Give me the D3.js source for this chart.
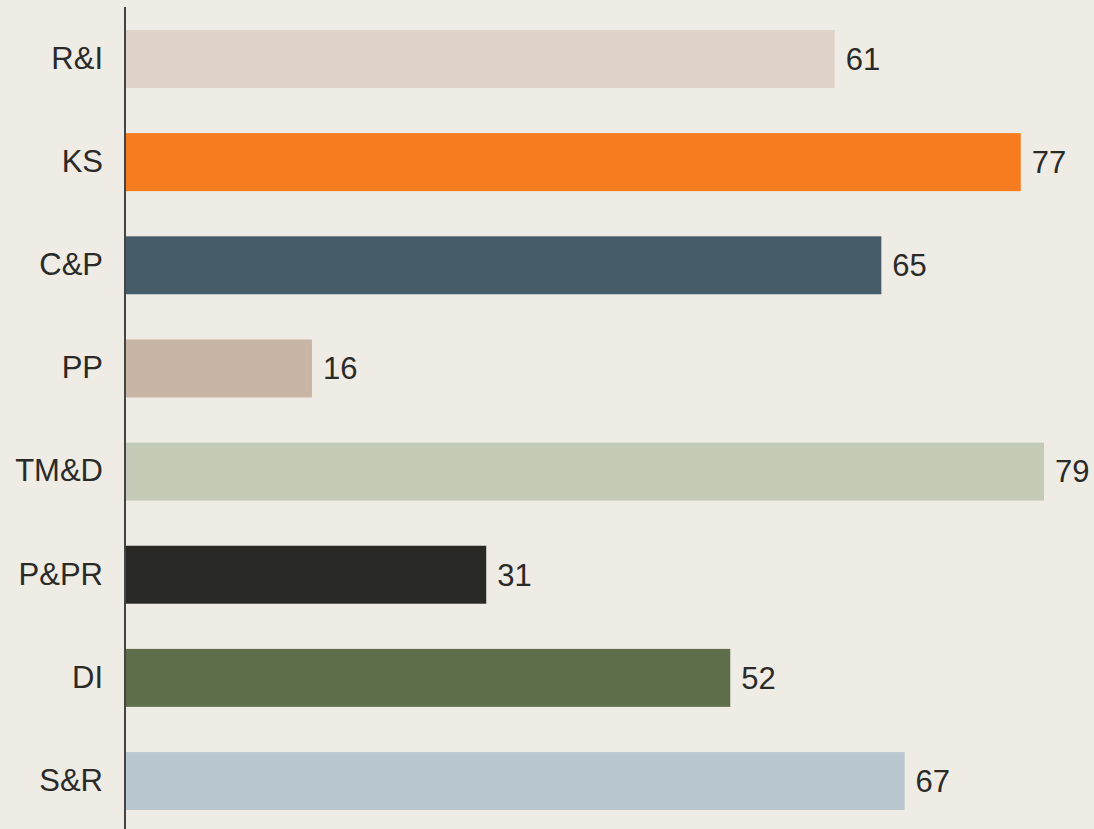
<!DOCTYPE html>
<html>
<head>
<meta charset="utf-8">
<script src="https://cdn.jsdelivr.net/npm/d3@7"></script>
<style>
  html, body { margin: 0; padding: 0; background: #efece5; }
  svg { display: block; }
</style>
</head>
<body>
<div id="chart"></div>
<script>
const categories = ["R&I", "KS", "C&P", "PP", "TM&D", "P&PR", "DI", "S&R"];
const values = [61, 77, 65, 16, 79, 31, 52, 67];
const barColors = ["#e0d4ca", "#f77c20", "#465c68", "#c9b5a5", "#c3cbb7", "#292926", "#5f6e4a", "#b9c7d0"];

const width = 1094;
const height = 829;
const axisX = 125;

const svg = d3.select("#chart")
    .append("svg")
    .attr("width", width)
    .attr("height", height)
    .attr("font-family", "'Liberation Sans', Arial, sans-serif");

svg.append("rect")
    .attr("width", width)
    .attr("height", height)
    .attr("fill", "#efece5");

const x = d3.scaleLinear()
    .domain([0, 83.3])
    .range([axisX + 1, width]);

const y = d3.scaleBand()
    .domain(categories)
    .range([7.4, 832.6])
    .paddingInner(0.438)
    .paddingOuter(0.219);

const rows = categories.map((c, i) => ({ cat: c, value: values[i], color: barColors[i] }));

svg.selectAll("rect.bar")
    .data(rows)
    .enter()
    .append("rect")
    .attr("class", "bar")
    .attr("x", x(0))
    .attr("y", d => y(d.cat))
    .attr("width", d => x(d.value) - x(0))
    .attr("height", y.bandwidth())
    .attr("fill", d => d.color);

// value labels
svg.selectAll("text.val")
    .data(rows)
    .enter()
    .append("text")
    .attr("class", "val")
    .attr("x", d => x(d.value) + 11)
    .attr("y", d => y(d.cat) + y.bandwidth() / 2)
    .attr("dy", "0.35em")
    .attr("font-size", "31px")
    .attr("fill", "#2a2a28")
    .text(d => d.value);

// category axis
const yAxis = svg.append("g")
    .attr("transform", `translate(${axisX},0)`)
    .call(d3.axisLeft(y).tickSize(0).tickPadding(22));

yAxis.select(".domain").remove();
yAxis.selectAll("text")
    .attr("font-size", "31px")
    .attr("font-family", "'Liberation Sans', Arial, sans-serif")
    .attr("fill", "#2a2a28");

svg.append("line")
    .attr("x1", axisX)
    .attr("x2", axisX)
    .attr("y1", 7)
    .attr("y2", height)
    .attr("stroke", "#444")
    .attr("stroke-width", 2);
</script>
</body>
</html>
